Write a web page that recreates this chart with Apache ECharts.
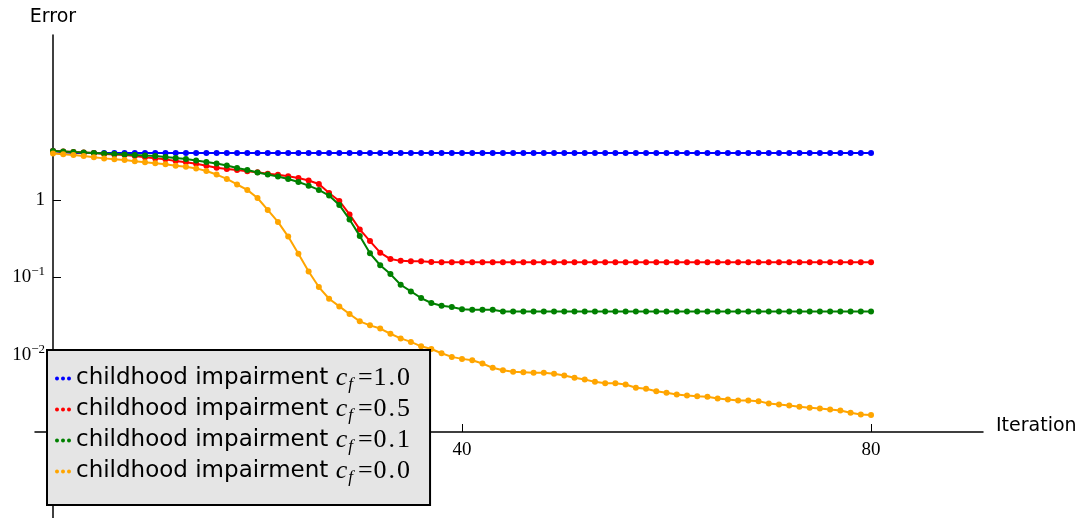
<!DOCTYPE html>
<html>
<head>
<meta charset="utf-8">
<script src="https://cdn.jsdelivr.net/npm/echarts@6/dist/echarts.min.js"></script>
<style>
html,body{margin:0;padding:0;background:#fff;}
#chart{width:1084px;height:518px;}
</style>
</head>
<body>
<div id="chart"></div>
<script>
// ---- data ----
const iterations = [0,1,2,3,4,5,6,7,8,9,10,11,12,13,14,15,16,17,18,19,20,21,22,23,24,25,26,27,28,29,30,31,32,33,34,35,36,37,38,39,40,41,42,43,44,45,46,47,48,49,50,51,52,53,54,55,56,57,58,59,60,61,62,63,64,65,66,67,68,69,70,71,72,73,74,75,76,77,78,79,80];

const errCf10 = [4.3,4.15,4.05,4.05,4.05,4.05,4.05,4.05,4.05,4.05,4.05,4.05,4.05,4.05,4.05,4.05,4.05,4.05,4.05,4.05,4.05,4.05,4.05,4.05,4.05,4.05,4.05,4.05,4.05,4.05,4.05,4.05,4.05,4.05,4.05,4.05,4.05,4.05,4.05,4.05,4.05,4.05,4.05,4.05,4.05,4.05,4.05,4.05,4.05,4.05,4.05,4.05,4.05,4.05,4.05,4.05,4.05,4.05,4.05,4.05,4.05,4.05,4.05,4.05,4.05,4.05,4.05,4.05,4.05,4.05,4.05,4.05,4.05,4.05,4.05,4.05,4.05,4.05,4.05,4.05,4.05];

const errCf05 = [4.29,4.23,4.16,4.10,4.04,3.92,3.87,3.81,3.70,3.56,3.45,3.35,3.19,3.07,2.94,2.77,2.61,2.51,
  2.44,2.35,2.28,2.18,2.12,2.02,1.92,1.785,1.61,1.23,0.971,0.650,0.416,0.294,0.208,0.172,0.163,0.161,0.161,0.158,
  0.156,0.156,0.156,0.156,0.156,0.156,0.156,0.156,0.156,0.156,0.156,0.156,0.156,0.156,0.156,0.156,0.156,0.156,0.156,0.156,0.156,0.156,0.156,0.156,0.156,0.156,0.156,0.156,0.156,0.156,0.156,0.156,0.156,0.156,0.156,0.156,0.156,0.156,0.156,0.156,0.156,0.156,0.156];

const errCf01 = [4.29,4.23,4.16,4.10,4.04,3.98,3.92,3.87,3.81,3.75,3.70,3.59,3.48,3.38,3.23,3.09,2.96,2.79,
  2.59,2.44,2.26,2.13,2.01,1.87,1.71,1.53,1.35,1.14,0.862,0.560,0.343,0.204,0.143,0.110,0.080,0.0656,0.0539,0.0465,0.0429,0.0413,0.0387,0.0381,0.0381,0.0381,
  0.0362,0.0362,0.0362,0.0362,0.0362,0.0362,0.0362,0.0362,0.0362,0.0362,0.0362,0.0362,0.0362,0.0362,0.0362,0.0362,0.0362,0.0362,0.0362,0.0362,0.0362,0.0362,0.0362,0.0362,0.0362,0.0362,0.0362,0.0362,0.0362,0.0362,0.0362,0.0362,0.0362,0.0362,0.0362,0.0362,0.0362];

const errCf00 = [4.00,3.89,3.81,3.70,3.56,3.45,3.35,3.28,3.16,3.07,2.98,2.89,2.77,2.69,2.56,2.37,2.13,1.87,1.585,1.35,
  1.06,0.743,0.520,0.336,0.201,0.119,0.0747,0.0528,0.0420,0.0335,0.0269,0.0239,0.0217,0.0186,0.0162,0.0146,0.0128,0.0118,0.0104,0.00934,
  0.00880,0.00844,0.00766,0.00674,0.00627,0.00598,0.00591,0.00581,0.00581,0.00564,0.00536,0.00501,0.00476,0.00444,0.00426,0.00426,0.00410,0.00372,0.00361,0.00336,
  0.00320,0.00305,0.00296,0.00290,0.00285,0.00271,0.00263,0.00255,0.00255,0.00250,0.00233,0.00226,0.00220,0.00211,0.00205,0.00201,0.00195,0.00189,0.00177,0.00168,0.00165];

const seriesLabel = 'childhood impairment';
const cfValues = ['1.0', '0.5', '0.1', '0.0'];
const seriesColors = ['#0000ff', '#ff0000', '#008000', '#ffa500'];
const seriesErrors = [errCf10, errCf05, errCf01, errCf00];

const yTickValues = [1, 0.1, 0.01];
const xTickValues = [40, 80];
const xLabel = 'Iteration';
const yLabel = 'Error';

// ---- chart ----
const X_MIN = -1.76, X_MAX = 90.95;
const Y_MIN = 7.7e-5, Y_MAX = 136;

const seriesNames = cfValues.map(v => seriesLabel + ' c_f =' + v);

function pairs(arr) { return iterations.map((x, i) => [x, arr[i]]); }

const dotsIcon = 'path://M0,2a2,2 0 1,0 4,0a2,2 0 1,0 -4,0zM6,2a2,2 0 1,0 4,0a2,2 0 1,0 -4,0zM12,2a2,2 0 1,0 4,0a2,2 0 1,0 -4,0z';

const chart = echarts.init(document.getElementById('chart'), null, {renderer: 'canvas'});

const serifFont = "'Liberation Serif', 'DejaVu Serif', serif";
const sansFont = "'DejaVu Sans', sans-serif";

function mathValue(v) {
  const parts = v.split('.');
  return '{e|' + parts[0] + '}{pt|.}{e|' + parts[1] + '}';
}

chart.setOption({
  animation: false,
  backgroundColor: '#fff',
  grid: [
    {left: 53, right: 101, top: 35, bottom: 0, containLabel: false},
    {left: 35, right: 101, top: 420, bottom: 86, containLabel: false}
  ],
  xAxis: [
    {type: 'value', gridIndex: 0, min: 0, max: X_MAX, show: false},
    {type: 'value', gridIndex: 1, min: X_MIN, max: X_MAX, position: 'bottom',
      name: xLabel, nameLocation: 'end', nameGap: 13,
      nameTextStyle: {fontFamily: sansFont, fontSize: 19, color: '#000', verticalAlign: 'bottom', lineHeight: 11},
      axisLine: {show: true, onZero: false, lineStyle: {color: '#000', width: 1.5}},
      axisTick: {show: true, inside: true, length: 8, customValues: xTickValues, lineStyle: {color: '#000', width: 1}},
      axisLabel: {show: true, customValues: xTickValues, margin: 9, fontFamily: serifFont, fontSize: 19, color: '#000'},
      splitLine: {show: false}
    }
  ],
  yAxis: [
    {type: 'log', gridIndex: 0, min: Y_MIN, max: Y_MAX, logBase: 10,
      name: yLabel, nameLocation: 'end', nameGap: 8,
      nameTextStyle: {fontFamily: sansFont, fontSize: 19, color: '#000'},
      axisLine: {show: true, lineStyle: {color: '#000', width: 1.5}},
      axisTick: {show: true, inside: true, length: 8, customValues: yTickValues, lineStyle: {color: '#000', width: 1}},
      axisLabel: {show: true, customValues: yTickValues, margin: 8,
        formatter: function (v) {
          const e = Math.round(Math.log10(v));
          if (e === 0) return '{n|1}';
          return '{n|10}{s|' + (e < 0 ? '\u2212' : '') + Math.abs(e) + '}';
        },
        rich: {
          n: {fontFamily: serifFont, fontSize: 19, color: '#000'},
          s: {fontFamily: serifFont, fontSize: 13, color: '#000', padding: [0, 0, 11, 0]}
        }
      },
      splitLine: {show: false}
    },
    {type: 'value', gridIndex: 1, show: false}
  ],
  legend: {
    orient: 'vertical', left: 47, top: 350,
    backgroundColor: '#e5e5e5', borderColor: '#000', borderWidth: 2, borderRadius: 0,
    padding: [14, 20, 19, 8], itemGap: 2, itemWidth: 16, itemHeight: 4,
    icon: dotsIcon,
    data: seriesNames,
    formatter: function (name) {
      const idx = seriesNames.indexOf(name);
      return '{t|' + seriesLabel + ' }{m|c}{sub|f}{eq|=}' + mathValue(cfValues[idx]);
    },
    textStyle: {
      color: '#000',
      rich: {
        t: {fontFamily: sansFont, fontSize: 23, color: '#000', lineHeight: 26},
        m: {fontFamily: serifFont, fontStyle: 'italic', fontSize: 26, color: '#000', lineHeight: 26},
        sub: {fontFamily: serifFont, fontStyle: 'italic', fontSize: 17, color: '#000', lineHeight: 14, padding: [12, 0, 0, 1]},
        eq: {fontFamily: serifFont, fontSize: 26, color: '#000', lineHeight: 26, padding: [0, 1, 0, 5]},
        e: {fontFamily: serifFont, fontSize: 26, color: '#000', lineHeight: 26},
        pt: {fontFamily: serifFont, fontSize: 26, color: '#000', lineHeight: 26, padding: [0, 2, 0, 2]}
      }
    },
    z: 10
  },
  series: seriesErrors.map((arr, k) => ({
    name: seriesNames[k],
    type: 'line',
    xAxisIndex: 0, yAxisIndex: 0,
    data: pairs(arr),
    clip: false,
    symbol: 'circle',
    symbolSize: 6,
    color: seriesColors[k],
    itemStyle: {color: seriesColors[k]},
    lineStyle: {color: seriesColors[k], width: 2},
    z: 2 + k
  }))
});
</script>
</body>
</html>
